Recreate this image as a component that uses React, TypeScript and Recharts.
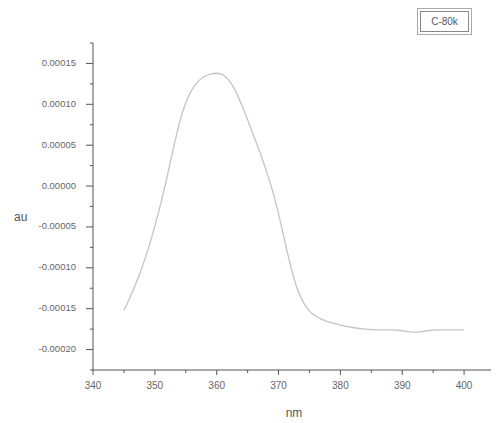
import React from 'react';
import { LineChart, Line, XAxis, YAxis, Legend, Label } from 'recharts';

const wavelengths = [345, 346, 347, 348, 349, 350, 351, 352, 353, 354, 355, 356, 357, 358, 359, 360, 361, 362, 363, 364, 365, 366, 367, 368, 369, 370, 371, 372, 373, 374, 375, 376, 377, 378, 379, 380, 382, 384, 386, 388, 390, 391, 392, 393, 394, 396, 398, 400];
const absorbance = [-0.000152, -0.000136, -0.000118, -0.000098, -0.000075, -0.000049, -0.00002, 0.000012, 0.000046, 0.000078, 0.000102, 0.000118, 0.000128, 0.000134, 0.000137, 0.000138, 0.000136, 0.000129, 0.000117, 0.0001, 0.000081, 0.000061, 0.000041, 0.000019, -0.000005, -0.000034, -0.000067, -0.000099, -0.000125, -0.000142, -0.000153, -0.000159, -0.000163, -0.000166, -0.000168, -0.00017, -0.000173, -0.000175, -0.000176, -0.000176, -0.000177, -0.000178, -0.000179, -0.000178, -0.000177, -0.000176, -0.000176, -0.000176];
const xMajorTicks = [340, 350, 360, 370, 380, 390, 400];
const xMinorTicks = [345, 355, 365, 375, 385, 395, 405];
const yMajorTicks = [-0.0002, -0.00015, -0.0001, -0.00005, 0, 0.00005, 0.0001, 0.00015];
const yMinorTicks = [-0.000225, -0.000175, -0.000125, -0.000075, -0.000025, 0.000025, 0.000075, 0.000125, 0.000175];
const seriesName = 'C-80k';

const data = wavelengths.map((w, i) => ({ nm: w, au: absorbance[i] }));

const AXIS = '#555';
const TXT = '#666';
const FONT = 'Liberation Sans, Arial, sans-serif';

const isMajor = (v: number, majors: number[]) => majors.some((m) => Math.abs(m - v) < 1e-9);

const XTick = (props: any) => {
  const { x, y, payload } = props;
  const major = isMajor(payload.value, xMajorTicks);
  return (
    <g>
      <line x1={x} x2={x} y1={y} y2={y + (major ? 5 : 3)} stroke={AXIS} strokeWidth={1} />
      {major && (
        <text x={x} y={y + 16} textAnchor="middle" dominantBaseline="middle" fontSize={10} fill={TXT} fontFamily={FONT}>
          {payload.value}
        </text>
      )}
    </g>
  );
};

const YTick = (props: any) => {
  const { x, y, payload } = props;
  const major = isMajor(payload.value, yMajorTicks);
  const v = Math.round(payload.value * 1e5) / 1e5;
  const label = (Object.is(v, -0) ? 0 : v).toFixed(5);
  return (
    <g>
      <line x1={x} x2={x - (major ? 7 : 3)} y1={y} y2={y} stroke={AXIS} strokeWidth={1} />
      {major && (
        <text x={x - 17} y={y} textAnchor="end" dominantBaseline="middle" fontSize={9.5} fill={TXT} fontFamily={FONT}>
          {label}
        </text>
      )}
    </g>
  );
};

const LegendBox = () => (
  <div style={{ width: 55, height: 27, boxSizing: 'border-box', border: '1px solid #aaa', padding: 2 }}>
    <div style={{ width: '100%', height: '100%', boxSizing: 'border-box', border: '1px solid #888', display: 'flex', alignItems: 'center', justifyContent: 'center', fontFamily: FONT, fontSize: 10, color: '#555' }}>
      {seriesName}
    </div>
  </div>
);

export default function App() {
  return (
    <div style={{ width: 491, height: 415, position: 'relative' }}>
      <LineChart width={491} height={415} data={data} margin={{ top: 35, right: 4, bottom: 0, left: 0 }}>
        <XAxis
          dataKey="nm"
          type="number"
          domain={[340, 405]}
          ticks={[...xMajorTicks, ...xMinorTicks].sort((a, b) => a - b)}
          interval={0}
          allowDataOverflow
          height={53}
          tickSize={0}
          tickMargin={0}
          tickLine={false}
          tick={<XTick />}
          axisLine={{ stroke: AXIS, strokeWidth: 1 }}
        >
          <Label value="nm" position="insideBottom" offset={6} fontSize={12} fill="#555" fontFamily={FONT} />
        </XAxis>
        <YAxis
          type="number"
          domain={[-0.000225, 0.000175]}
          ticks={[...yMajorTicks, ...yMinorTicks].sort((a, b) => a - b)}
          interval={0}
          allowDataOverflow
          width={85}
          tickSize={0}
          tickMargin={0}
          tickLine={false}
          tick={<YTick />}
          axisLine={{ stroke: AXIS, strokeWidth: 1 }}
        >
          <Label value="au" position="insideLeft" offset={6} dy={10} angle={0} fontSize={12} fill="#555" fontFamily={FONT} />
        </YAxis>
        <Legend
          layout="horizontal"
          verticalAlign="middle"
          align="center"
          content={() => <LegendBox />}
          wrapperStyle={{ position: 'absolute', top: 0, left: 409, width: 55, height: 27 }}
        />
        <Line
          type="monotone"
          dataKey="au"
          name={seriesName}
          stroke="#c4c4c4"
          strokeWidth={1.3}
          dot={false}
          isAnimationActive={false}
        />
      </LineChart>
    </div>
  );
}
